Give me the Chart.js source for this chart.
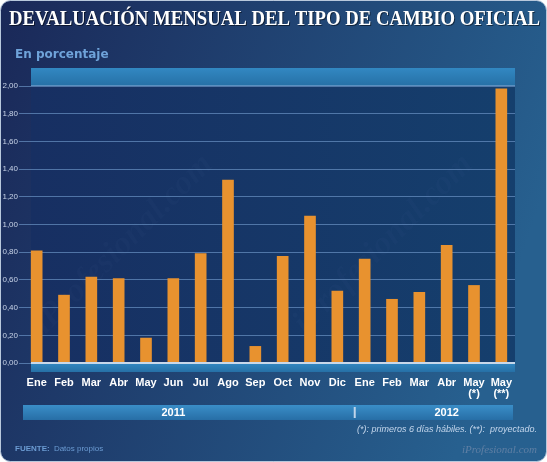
<!DOCTYPE html>
<html>
<head>
<meta charset="utf-8">
<script src="https://cdn.jsdelivr.net/npm/chart.js@4"></script>
<style>
  html, body { margin: 0; padding: 0; background: #ffffff; }
  #wrap { width: 547px; height: 462px; position: relative; }
</style>
</head>
<body>
<div id="wrap"><canvas id="grafico" width="547" height="462"></canvas></div>
<script>
// datos
let meses = [
  'Ene', 'Feb', 'Mar', 'Abr', 'May', 'Jun', 'Jul', 'Ago', 'Sep', 'Oct', 'Nov', 'Dic',
  'Ene', 'Feb', 'Mar', 'Abr', ['May', '(*)'], ['May', '(**)']
];
let devaluacion = [
  0.81, 0.49, 0.62, 0.61, 0.18, 0.61, 0.79, 1.32, 0.12, 0.77, 1.06, 0.52,
  0.75, 0.46, 0.51, 0.85, 0.56, 1.98
];
let anios = ['2011', '2012'];
let ticksY = [0, 0.2, 0.4, 0.6, 0.8, 1.0, 1.2, 1.4, 1.6, 1.8, 2.0];

let fondo = {
  id: 'fondo',
  beforeDraw(chart) {
    let ctx = chart.ctx;
    let a = chart.chartArea;
    let W = chart.width, H = chart.height;
    ctx.save();
    // marco
    let g = ctx.createLinearGradient(0, 0, W, H * 0.4);
    g.addColorStop(0, '#1a2858');
    g.addColorStop(1, '#27608f');
    ctx.fillStyle = g;
    ctx.beginPath();
    ctx.roundRect(0.5, 0.5, W - 1, H - 1, 10);
    ctx.fill();
    ctx.strokeStyle = '#b8c8dc';
    ctx.lineWidth = 1;
    ctx.stroke();

    // area del grafico
    let px = a.left + 8;
    let gp = ctx.createLinearGradient(px, 0, a.right, 0);
    gp.addColorStop(0, '#172f62');
    gp.addColorStop(1, '#153f6d');
    ctx.fillStyle = gp;
    ctx.fillRect(px, a.top, a.right - px, a.bottom - a.top);

    // banda superior
    let gb = ctx.createLinearGradient(0, a.top - 18, 0, a.top);
    gb.addColorStop(0, '#3288c2');
    gb.addColorStop(1, '#2670a6');
    ctx.fillStyle = gb;
    ctx.fillRect(px, a.top - 18, a.right - px, 18);
    ctx.fillStyle = '#5a90c0';
    ctx.fillRect(px, a.top - 1, a.right - px, 1);

    // marca de agua
    ctx.fillStyle = 'rgba(120,150,200,0.035)';
    ctx.font = 'italic bold 34px "Liberation Serif"';
    [[130, 250], [390, 250]].forEach(p => {
      ctx.save();
      ctx.translate(p[0], p[1]);
      ctx.rotate(-Math.PI / 4);
      ctx.fillText('iProfesional.com', -120, 0);
      ctx.restore();
    });

    // titulo
    ctx.fillStyle = '#ffffff';
    ctx.shadowColor = 'rgba(0,0,0,0.5)';
    ctx.shadowOffsetX = 1;
    ctx.shadowOffsetY = 1;
    ctx.font = 'bold 20px "Liberation Serif"';
    ctx.textBaseline = 'alphabetic';
    let titulo = 'DEVALUACIÓN MENSUAL DEL TIPO DE CAMBIO OFICIAL';
    let tw = ctx.measureText(titulo).width;
    ctx.save();
    ctx.translate(9, 25);
    ctx.scale(531 / tw, 1);
    ctx.fillText(titulo, 0, 0);
    ctx.restore();
    ctx.shadowColor = 'transparent';

    ctx.fillStyle = '#6fa3da';
    ctx.font = 'bold 12px "DejaVu Sans"';
    ctx.fillText('En porcentaje', 15, 58);
    ctx.restore();
  },
  afterDraw(chart) {
    let ctx = chart.ctx;
    let a = chart.chartArea;
    let x = chart.scales.x;
    let px = a.left + 8;
    ctx.save();
    // linea cero y banda inferior
    let gb = ctx.createLinearGradient(0, a.bottom, 0, a.bottom + 9);
    gb.addColorStop(0, '#3288c2');
    gb.addColorStop(1, '#2670a6');
    ctx.fillStyle = gb;
    ctx.fillRect(px, a.bottom, a.right - px, 9);
    ctx.fillStyle = '#c8d8ea';
    ctx.fillRect(px, a.bottom - 1, a.right - px, 2);

    // banda de anios
    let yb = 405;
    let gy = ctx.createLinearGradient(0, yb, 0, yb + 15);
    gy.addColorStop(0, '#3a8ec8');
    gy.addColorStop(1, '#276ea6');
    ctx.fillStyle = gy;
    ctx.fillRect(a.left, yb, a.right - 2 - a.left, 15);
    let sep = x.getPixelForValue(11.6);
    ctx.fillStyle = '#c0d4ea';
    ctx.fillRect(sep, yb + 2, 2, 11);
    ctx.fillStyle = '#ffffff';
    ctx.font = 'bold 11px "Liberation Sans"';
    ctx.textAlign = 'center';
    ctx.textBaseline = 'middle';
    ctx.fillText(anios[0], x.getPixelForValue(5), yb + 8);
    ctx.fillText(anios[1], x.getPixelForValue(15), yb + 8);

    // notas
    ctx.textAlign = 'right';
    ctx.fillStyle = '#c4d6ec';
    ctx.font = 'italic 9px "Liberation Sans"';
    ctx.fillText('(*): primeros 6 días hábiles. (**):  proyectado.', 537, 429);
    ctx.fillStyle = '#5f7fa4';
    ctx.font = 'italic 11px "Liberation Serif"';
    ctx.fillText('iProfesional.com', 537, 450);

    ctx.textAlign = 'left';
    ctx.fillStyle = '#6b9bd2';
    ctx.font = 'bold 8px "Liberation Sans"';
    ctx.fillText('FUENTE:', 15, 449);
    let fw = ctx.measureText('FUENTE: ').width;
    ctx.font = '8px "Liberation Sans"';
    ctx.fillText('Datos propios', 15 + fw + 2, 449);
    ctx.restore();
  }
};

let grafico = document.getElementById('grafico').getContext('2d');

let chart = new Chart(grafico, {
  type: 'bar',
  data: {
    labels: meses,
    datasets: [{
      label: 'Devaluación mensual',
      data: devaluacion,
      backgroundColor: '#e8922f',
      borderWidth: 0,
      barThickness: 11
    }]
  },
  options: {
    responsive: false,
    animation: false,
    layout: {
      padding: { top: 86, left: 0, right: 32, bottom: 59 }
    },
    plugins: {
      legend: { display: false },
      tooltip: { enabled: false }
    },
    scales: {
      x: {
        afterFit(scale) { scale.height = 40; },
        grid: { display: false, drawTicks: false },
        border: { display: false },
        ticks: {
          color: '#ffffff',
          font: { family: 'Liberation Sans', size: 11, weight: 'bold', lineHeight: 1.05 },
          padding: 14,
          maxRotation: 0,
          autoSkip: false
        }
      },
      y: {
        min: 0,
        max: 2,
        afterFit(scale) { scale.width = 23; },
        afterBuildTicks(scale) {
          scale.ticks = ticksY.map(v => ({ value: v }));
        },
        grid: {
          color: 'rgba(105,145,195,0.7)',
          lineWidth: 1,
          tickLength: 4
        },
        border: { display: false },
        ticks: {
          color: '#c8d4e8',
          font: { family: 'Liberation Sans', size: 8 },
          padding: 1,
          callback: v => v.toFixed(2).replace('.', ',')
        }
      }
    }
  },
  plugins: [fondo]
});
</script>
</body>
</html>
